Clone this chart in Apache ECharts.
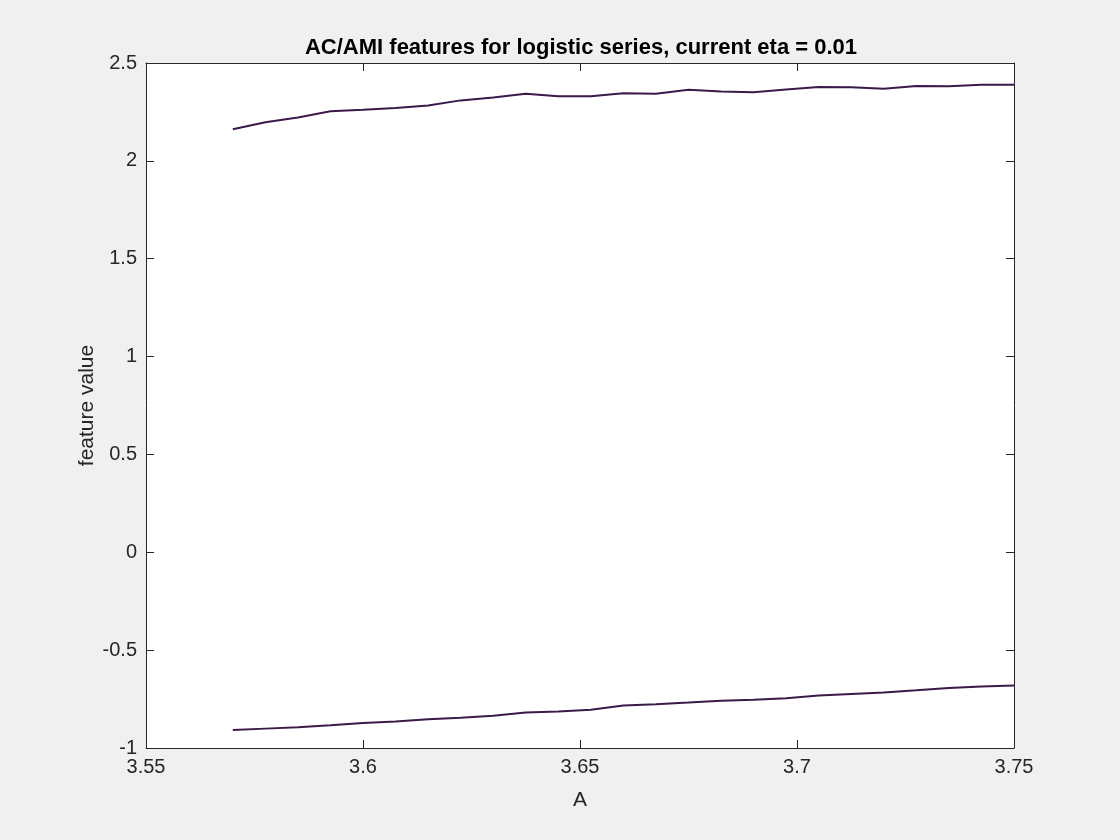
<!DOCTYPE html>
<html>
<head>
<meta charset="utf-8">
<script src="https://cdn.jsdelivr.net/npm/echarts@6/dist/echarts.min.js"></script>
<style>
  html, body { margin: 0; padding: 0; background: #f0f0f0; }
  #chart { width: 1120px; height: 840px; }
</style>
</head>
<body>
<div id="chart"></div>
<script>
var aValues = [3.57, 3.5775, 3.585, 3.5925, 3.6, 3.6075, 3.615, 3.6225, 3.63, 3.6375,
    3.645, 3.6525, 3.66, 3.6675, 3.675, 3.6825, 3.69, 3.6975, 3.705, 3.7125,
    3.72, 3.7275, 3.735, 3.7425, 3.75];
var acValues = [2.161, 2.197, 2.222, 2.254, 2.261, 2.270, 2.283, 2.309, 2.324, 2.343,
    2.330, 2.330, 2.346, 2.343, 2.363, 2.355, 2.350, 2.365, 2.377, 2.376,
    2.369, 2.382, 2.381, 2.389, 2.389];
var amiValues = [-0.908, -0.901, -0.894, -0.884, -0.872, -0.865, -0.853, -0.845, -0.835, -0.819,
    -0.814, -0.804, -0.783, -0.776, -0.768, -0.759, -0.753, -0.746, -0.732, -0.724,
    -0.716, -0.705, -0.693, -0.686, -0.681];

function pairs(xs, ys) {
    return xs.map(function (x, i) { return [x, ys[i]]; });
}

var axisColor = '#262626';
var font = 'Liberation Sans, Arial, Helvetica, sans-serif';

function boxAxis(pos, min, max, step, showLabel) {
    return {
        type: 'value',
        position: pos,
        min: min,
        max: max,
        interval: step,
        splitLine: { show: false },
        axisLine: { show: true, onZero: false, lineStyle: { color: axisColor, width: 1 } },
        axisTick: { show: true, inside: true, length: 8, lineStyle: { color: axisColor } },
        axisLabel: {
            show: showLabel,
            color: axisColor,
            fontFamily: font,
            fontSize: 20,
            margin: 9,
            formatter: function (v) { return String(parseFloat(v.toFixed(2))); }
        }
    };
}

var chart = echarts.init(document.getElementById('chart'));

var xMain = boxAxis('bottom', 3.55, 3.75, 0.05, true);
xMain.name = 'A';
xMain.nameLocation = 'middle';
xMain.nameGap = 42;
xMain.nameTextStyle = { color: axisColor, fontFamily: font, fontSize: 21 };

var yMain = boxAxis('left', -1, 2.5, 0.5, true);
yMain.name = 'feature value';
yMain.nameLocation = 'middle';
yMain.nameGap = 48;
yMain.nameMoveOverlap = false;
yMain.nameTextStyle = { color: axisColor, fontFamily: font, fontSize: 21 };

chart.setOption({
    backgroundColor: '#f0f0f0',
    animation: false,
    title: {
        text: 'AC/AMI features for logistic series, current eta = 0.01',
        left: 576,
        textAlign: 'center',
        top: 32,
        textStyle: { color: '#000', fontFamily: font, fontSize: 22, fontWeight: 'bold' }
    },
    grid: { left: 146, right: 106, top: 63, bottom: 92, show: true, backgroundColor: '#ffffff', borderWidth: 0 },
    xAxis: [xMain, boxAxis('top', 3.55, 3.75, 0.05, false)],
    yAxis: [yMain, boxAxis('right', -1, 2.5, 0.5, false)],
    series: [
        {
            name: 'AC',
            type: 'line',
            data: pairs(aValues, acValues),
            showSymbol: false,
            lineStyle: { color: '#3a1a4a', width: 2 }
        },
        {
            name: 'AMI',
            type: 'line',
            data: pairs(aValues, amiValues),
            showSymbol: false,
            lineStyle: { color: '#3a1a4a', width: 2 }
        }
    ]
});
</script>
</body>
</html>
